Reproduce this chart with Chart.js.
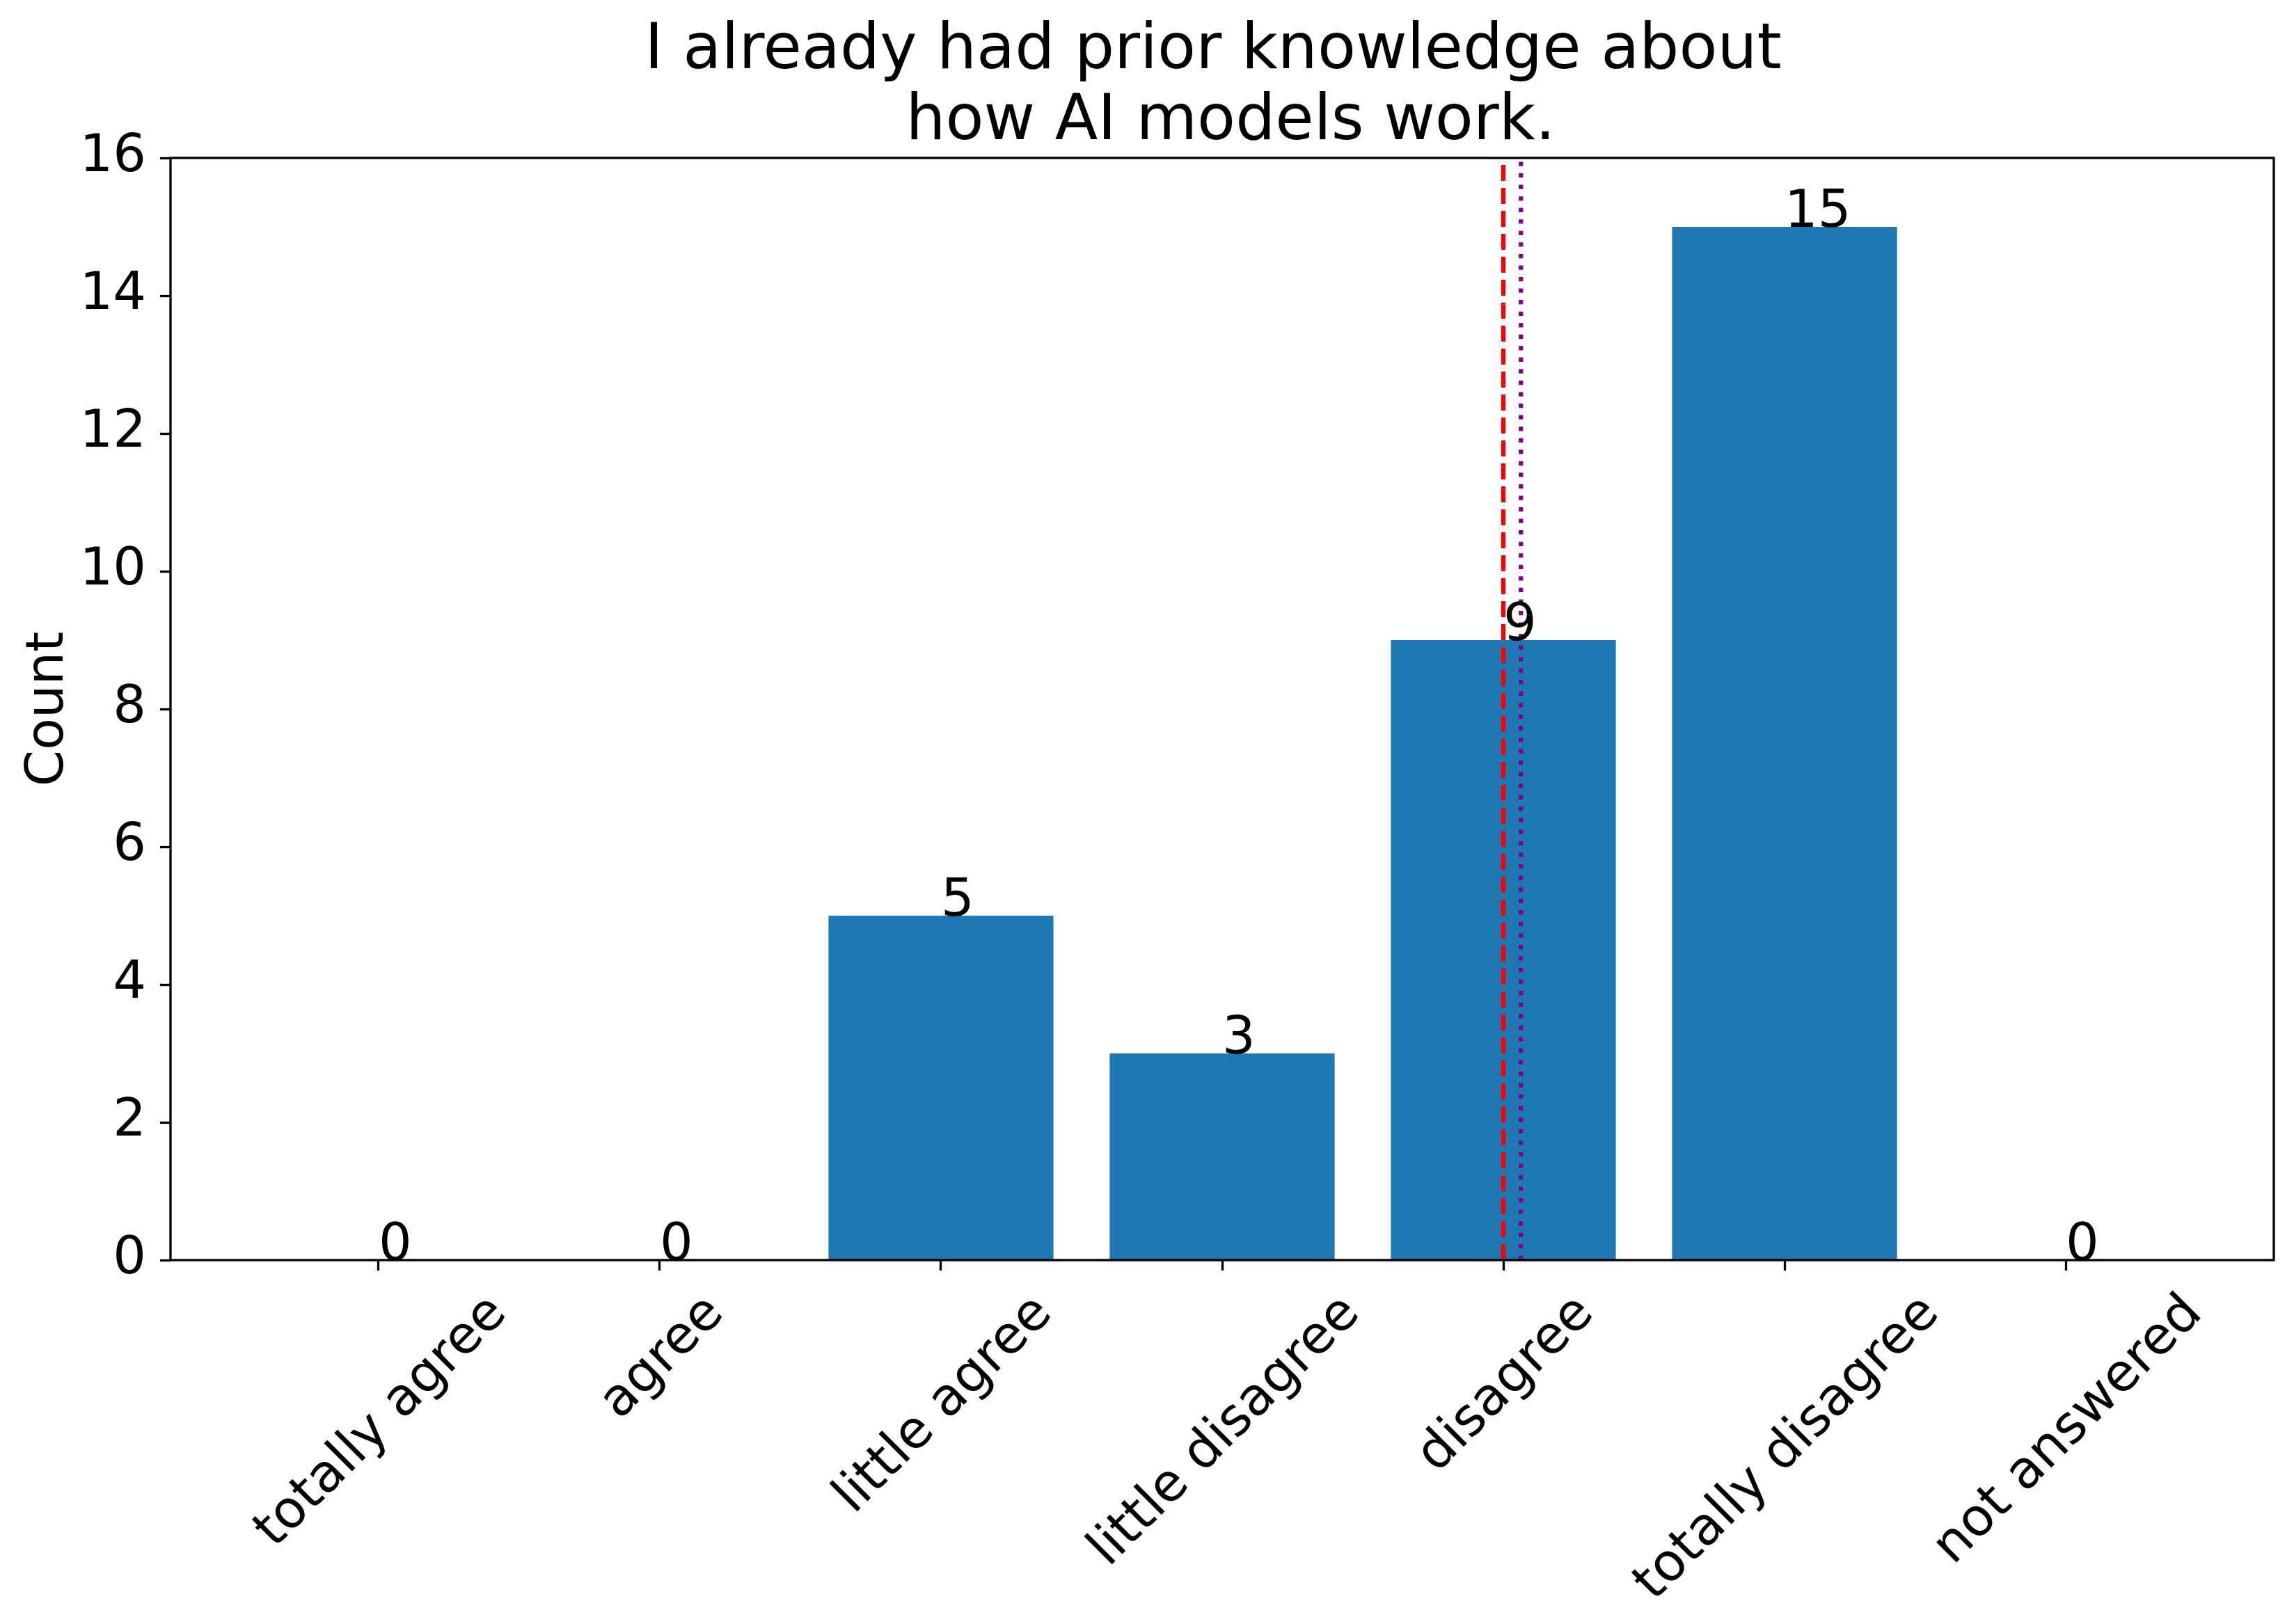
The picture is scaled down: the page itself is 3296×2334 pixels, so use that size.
<!DOCTYPE html>
<html>
<head>
<meta charset="utf-8">
<script src="https://cdn.jsdelivr.net/npm/chart.js@4/dist/chart.umd.min.js"></script>
<style>
	html, body { margin: 0; padding: 0; background: #fff; }
	canvas { display: block; }
</style>
</head>
<body>
<canvas id="chart" width="3296" height="2334"></canvas>
<script>
const categories = ["totally agree", "agree", "little agree", "little disagree", "disagree", "totally disagree", "not answered"]
const counts = [0, 0, 5, 3, 9, 15, 0]
const yTicks = [0, 2, 4, 6, 8, 10, 12, 14, 16]
const titleLines = ["I already had prior knowledge about", "how AI models work."]
const yLabel = "Count"
const medianPos = 4      // red dashed line
const meanPos = 4.0625   // purple dotted line

const FONT = "DejaVu Sans"
const tickSize = 75

document.addEventListener("DOMContentLoaded", function () {
	const ctx = document.getElementById("chart").getContext("2d")

	//text, frame and rotated category labels
	const decor = {
		id: "decor",
		afterDatasetsDraw(chart) {
			const c = chart.ctx
			const area = chart.chartArea
			const xs = chart.scales.x
			const ys = chart.scales.y
			c.save()
			c.fillStyle = "#000"

			//value labels: left aligned, baseline on bar top
			c.font = `${tickSize}px "${FONT}"`
			c.textAlign = "left"
			c.textBaseline = "alphabetic"
			counts.forEach((v, i) => {
				c.fillText(String(v), xs.getPixelForValue(i), ys.getPixelForValue(v))
			})

			//frame
			c.strokeStyle = "#000"
			c.lineWidth = 3.3
			c.strokeRect(area.left, area.top, area.right - area.left, area.bottom - area.top)

			//x labels rotated 45, bbox centred under tick
			const h = tickSize * 1.164
			const top = area.bottom + 15 + 14.6
			categories.forEach((label, i) => {
				const w = c.measureText(label).width
				const half = (w + h) / (2 * Math.SQRT2)
				c.save()
				c.translate(xs.getPixelForValue(i), top + half)
				c.rotate(-Math.PI / 4)
				c.textAlign = "center"
				c.textBaseline = "alphabetic"
				c.fillText(label, 0, tickSize * 0.346)
				c.restore()
			})

			//y label
			c.save()
			c.translate(90, (area.top + area.bottom) / 2)
			c.rotate(-Math.PI / 2)
			c.textAlign = "center"
			c.fillText(yLabel, 0, 0)
			c.restore()

			//title
			c.font = `90px "${FONT}"`
			c.textAlign = "center"
			const cx = (area.left + area.right) / 2
			c.fillText(titleLines[0], cx - 13, 98)
			c.fillText(titleLines[1], cx + 12, 200)
			c.restore()
		}
	}

	new Chart(ctx, {
		type: "bar",
		data: {
			datasets: [
				{
					type: "line",
					label: "median",
					data: [{ x: medianPos, y: yTicks[0] }, { x: medianPos, y: yTicks[yTicks.length - 1] }],
					borderColor: "#ff0000",
					borderWidth: 6.25,
					borderDash: [23, 10],
					borderCapStyle: "butt",
					pointRadius: 0,
					order: 1
				},
				{
					type: "line",
					label: "mean",
					data: [{ x: meanPos, y: yTicks[0] }, { x: meanPos, y: yTicks[yTicks.length - 1] }],
					borderColor: "#800080",
					borderWidth: 6.25,
					borderDash: [6.25, 10.3],
					borderCapStyle: "butt",
					pointRadius: 0,
					order: 1
				},
				{
					label: "Count",
					data: counts.map((v, i) => ({ x: i, y: v })),
					backgroundColor: "#1f77b4",
					borderWidth: 0,
					barPercentage: 0.8,
					categoryPercentage: 1,
					order: 2
				}
			]
		},
		options: {
			responsive: false,
			devicePixelRatio: 1,
			animation: false,
			layout: { padding: { top: 227, right: 29, bottom: 0, left: 0 } },
			plugins: {
				legend: { display: false },
				tooltip: { enabled: false },
				title: { display: false }
			},
			scales: {
				x: {
					type: "linear",
					min: -0.74,
					max: 6.74,
					offset: false,
					afterBuildTicks: (scale) => {
						scale.ticks = categories.map((c, i) => ({ value: i }))
					},
					afterFit: (scale) => { scale.height = 523 },
					ticks: { display: false },
					grid: {
						display: true,
						offset: false,
						drawOnChartArea: false,
						drawTicks: true,
						tickLength: 15,
						tickWidth: 3.3,
						tickColor: "#000"
					},
					border: { display: false }
				},
				y: {
					min: yTicks[0],
					max: yTicks[yTicks.length - 1],
					afterBuildTicks: (scale) => {
						scale.ticks = yTicks.map(v => ({ value: v }))
					},
					afterFit: (scale) => { scale.width = 245 },
					ticks: {
						color: "#000",
						padding: 20,
						font: { family: FONT, size: tickSize }
					},
					grid: {
						display: true,
						drawOnChartArea: false,
						drawTicks: true,
						tickLength: 15,
						tickWidth: 3.3,
						tickColor: "#000"
					},
					border: { display: false }
				}
			}
		},
		plugins: [decor]
	})
})
</script>
</body>
</html>
